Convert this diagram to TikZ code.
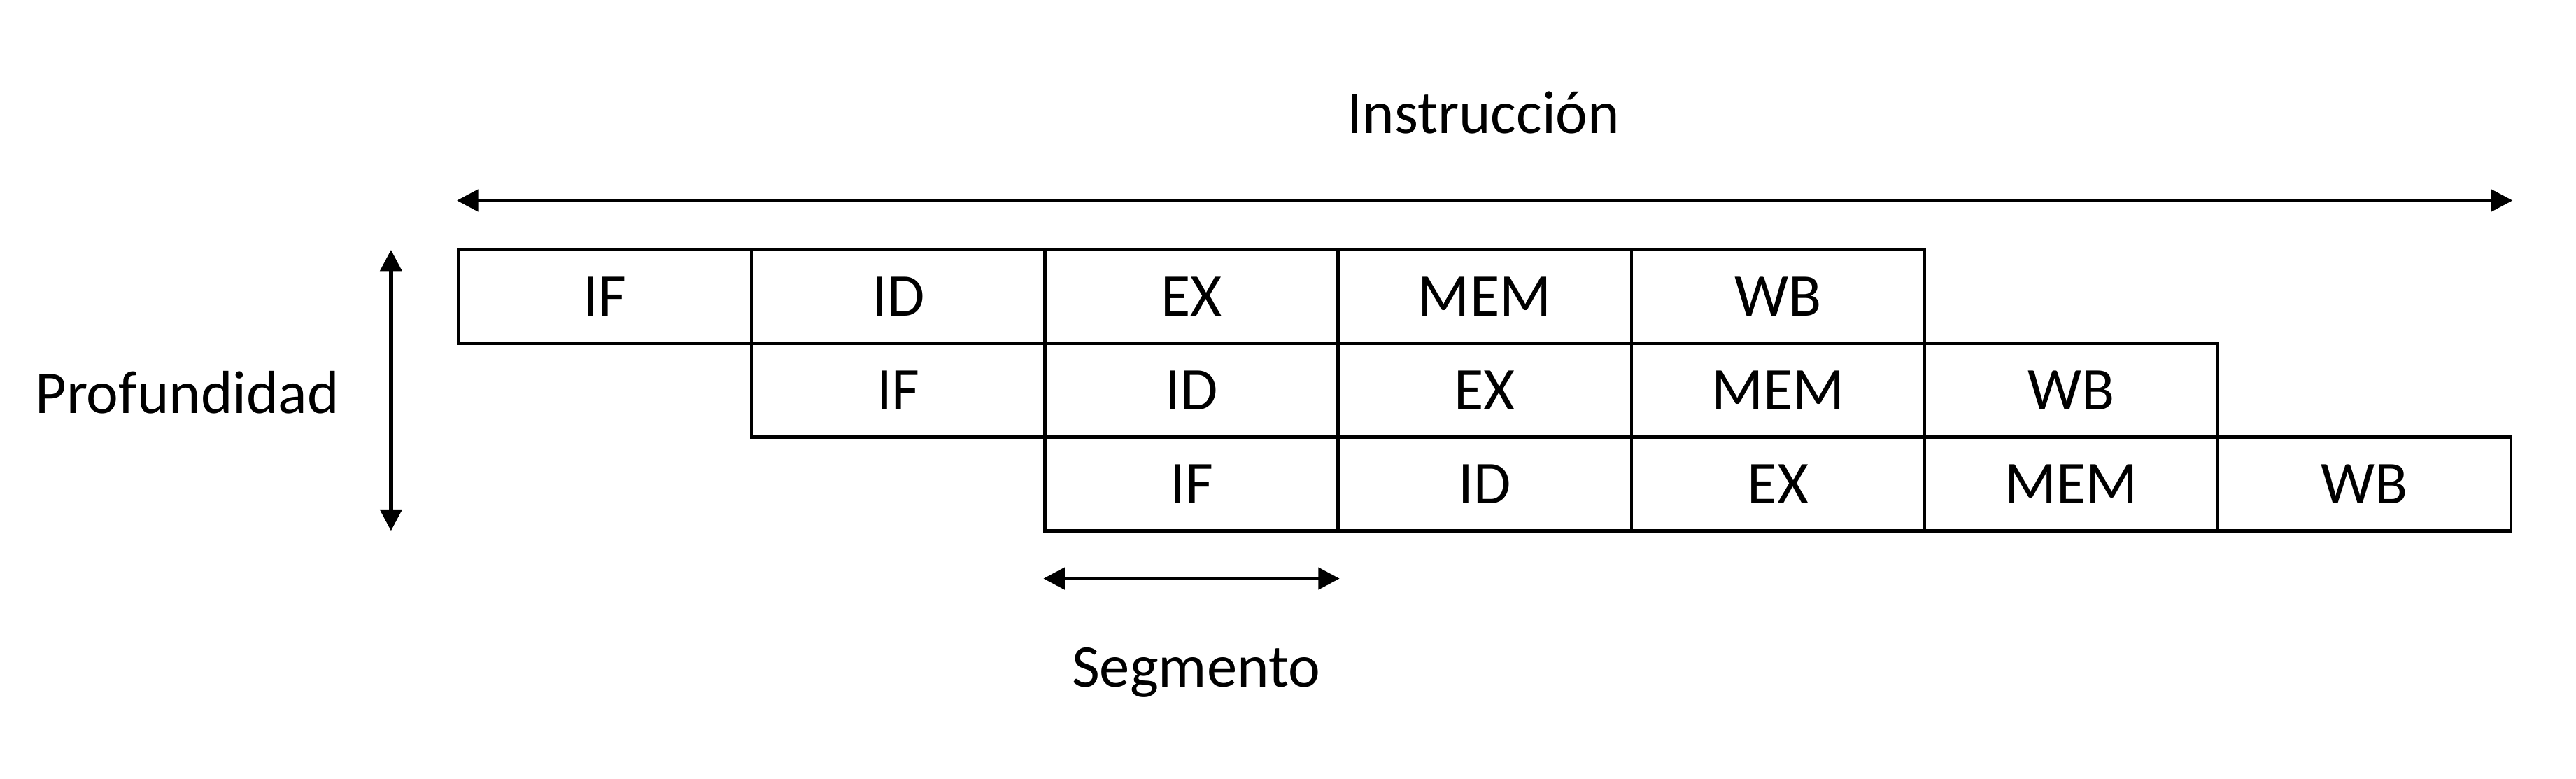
\documentclass[tikz,border=0pt]{standalone}
\usepackage{fontspec}
\setmainfont{Carlito}
\usepackage{tikz}
\usetikzlibrary{positioning, arrows.meta}

\begin{document}
\begin{tikzpicture}[auto, node distance=3.57cm, >={Triangle[length=0.26cm, width=0.26cm]}, font=\fontsize{21}{25}\selectfont]

% Define block styles
\tikzstyle{stage} = [draw, rectangle, line width=1.05pt, minimum height=1.14cm, minimum width=3.57cm, inner sep=0pt]
\tikzstyle{dim} = [<->, line width=1.4pt]
\tikzstyle{label} = [anchor=base]

\useasboundingbox (0,0) rectangle (31.36,-9.471);

% Nodes (first instruction)
\node [stage] (if1) at (7.365,-3.61) {IF};
\node [stage, right of=if1] (id1) {ID};
\node [stage, right of=id1] (ex1) {EX};
\node [stage, right of=ex1] (mem1) {MEM};
\node [stage, right of=mem1] (wb1) {WB};

% Nodes (second instruction)
\node [stage, below of=id1, node distance=1.14cm] (if2) {IF};
\node [stage, right of=if2] (id2) {ID};
\node [stage, right of=id2] (ex2) {EX};
\node [stage, right of=ex2] (mem2) {MEM};
\node [stage, right of=mem2] (wb2) {WB};

% Nodes (third instruction)
\node [stage, below of=id2, node distance=1.14cm] (if3) {IF};
\node [stage, right of=if3] (id3) {ID};
\node [stage, right of=id3] (ex3) {EX};
\node [stage, right of=ex3] (mem3) {MEM};
\node [stage, right of=mem3] (wb3) {WB};

% Labels
\node [label] (instruccion) at (18.06,-1.62) {Instrucción};
\node [label] (profundidad) at (2.28,-5.03) {Profundidad};
\node [label] (segmento) at (14.56,-8.36) {Segmento};

% Arrow end points
\coordinate (instl) at (if1.north west |- 0,-2.44);
\coordinate (instr) at (wb3.north east |- 0,-2.44);
\coordinate (proft) at (4.76,-3.04);
\coordinate (profb) at (4.76,-6.46);
\coordinate (segl) at (if3.south west |- 0,-7.04);
\coordinate (segr) at (if3.south east |- 0,-7.04);

% Connections
\draw [dim] (instl) -- (instr); % length of one instruction
\draw [dim] (proft) -- (profb); % depth of the pipeline
\draw [dim] (segl) -- (segr); % one segment

\end{tikzpicture}
\end{document}
